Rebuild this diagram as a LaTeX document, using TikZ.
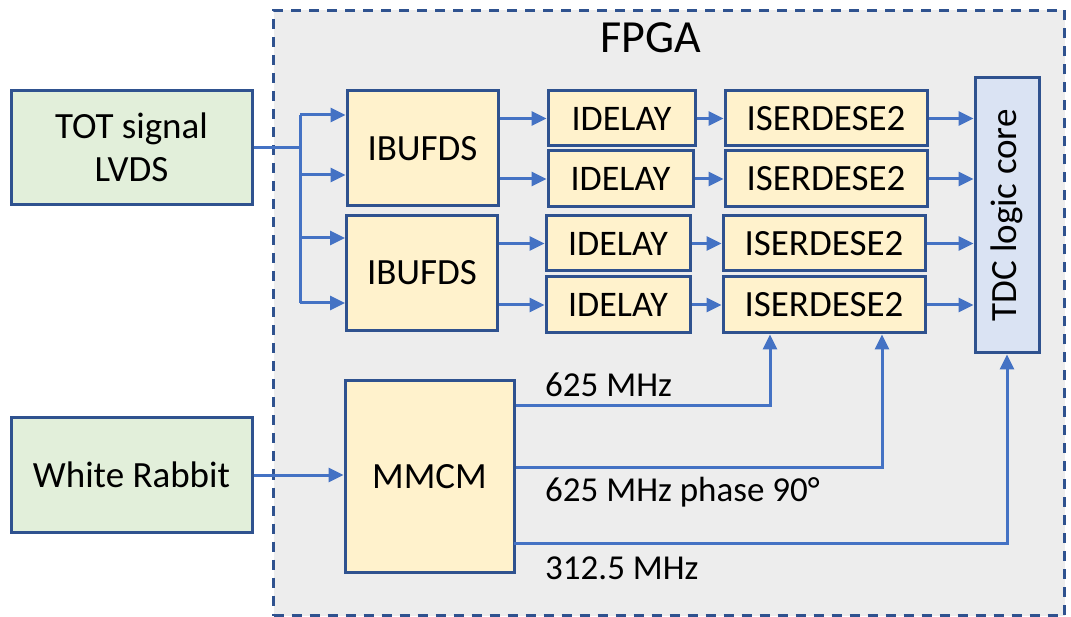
\documentclass[tikz,border=0pt]{standalone}
\usepackage{fontspec}
\setmainfont{Carlito}
\usetikzlibrary{arrows.meta,calc}
\definecolor{bord}{HTML}{2F528F}
\definecolor{arrc}{HTML}{4472C4}
\definecolor{yel}{HTML}{FFF2CC}
\definecolor{grn}{HTML}{E2EFDA}
\definecolor{blu}{HTML}{DAE3F3}
\definecolor{bg}{HTML}{EDEDED}
\tikzset{
  blk/.style={draw=bord, line width=3pt, inner sep=0pt, font=\fontsize{37}{43}\selectfont},
  ybox/.style={blk, fill=yel},
  ibox/.style={ybox, font=\fontsize{36}{43}\selectfont},
  gbox/.style={blk, fill=grn, align=center},
  arr/.style={draw=arrc, line width=3pt, -{Triangle[length=15pt,width=14pt]}},
  ln/.style={draw=arrc, line width=3pt},
  lbl/.style={font=\fontsize{35}{40}\selectfont, inner sep=0pt, anchor=west}
}
\begin{document}
\begin{tikzpicture}[x=1pt,y=-1pt]
\useasboundingbox (0,0) rectangle (1071,617);
% FPGA area
\node[fill=bg, draw=bord, line width=3pt, dash pattern=on 10pt off 8pt, minimum width=791pt, minimum height=605pt, inner sep=0pt, anchor=north west] (fpga) at (272,9) {};
\node[font=\fontsize{46}{50}\selectfont, inner sep=0pt] (fpgalbl) at (651,38) {FPGA};
% inputs
\node[gbox, minimum width=241pt, minimum height=114pt] (tot) at (131.5,147.5) {TOT signal\\LVDS};
\node[gbox, minimum width=241pt, minimum height=114pt] (wr) at (131.5,475) {White Rabbit};
% IBUFDS
\node[ybox, minimum width=151pt, minimum height=115pt] (ib1) at (422.5,148.5) {IBUFDS};
\node[ybox, minimum width=151pt, minimum height=115pt] (ib2) at (422,273) {IBUFDS};
% IDELAY
\node[ibox, minimum width=147pt, minimum height=55pt] (id1) at (621.5,118.5) {IDELAY};
\node[ibox, minimum width=145pt, minimum height=56pt] (id2) at (620.5,179) {IDELAY};
\node[ibox, minimum width=144pt, minimum height=55pt] (id3) at (618,243.5) {IDELAY};
\node[ibox, minimum width=144pt, minimum height=56pt] (id4) at (618,305) {IDELAY};
% ISERDESE2
\node[ybox, minimum width=202pt, minimum height=55pt] (is1) at (826,118.5) {ISERDESE2};
\node[ybox, minimum width=202pt, minimum height=56pt] (is2) at (826,179) {ISERDESE2};
\node[ybox, minimum width=202pt, minimum height=55pt] (is3) at (824,243.5) {ISERDESE2};
\node[ybox, minimum width=202pt, minimum height=56pt] (is4) at (824,305) {ISERDESE2};
% TDC
\node[blk, fill=blu, minimum width=64pt, minimum height=275pt] (tdc) at (1007,215.5) {};
\node[rotate=90, font=\fontsize{37}{43}\selectfont, inner sep=0pt] (tdclbl) at (tdc.center) {TDC logic core};
% MMCM
\node[ybox, minimum width=169pt, minimum height=191pt] (mm) at (429.5,476.5) {MMCM};
% split
\coordinate (sp) at (300,148);
\coordinate (s1) at (300,115);
\coordinate (s2) at (300,175);
\coordinate (s3) at (300,238);
\coordinate (s4) at (300,303);
\draw[ln] (tot.east |- sp) -- (sp);
\draw[ln] (s1) -- (s4);
\draw[arr] (s1) -- (s1 -| ib1.west);
\draw[arr] (s2) -- (s2 -| ib1.west);
\draw[arr] (s3) -- (s3 -| ib2.west);
\draw[arr] (s4) -- (s4 -| ib2.west);
% IBUFDS -> IDELAY
\draw[arr] (ib1.east |- id1) -- (id1.west);
\draw[arr] (ib1.east |- id2) -- (id2.west);
\draw[arr] (ib2.east |- id3) -- (id3.west);
\draw[arr] (ib2.east |- id4) -- (id4.west);
% IDELAY -> ISERDES
\draw[arr] (id1.east) -- (is1.west |- id1);
\draw[arr] (id2.east) -- (is2.west |- id2);
\draw[arr] (id3.east) -- (is3.west |- id3);
\draw[arr] (id4.east) -- (is4.west |- id4);
% ISERDES -> TDC
\draw[arr] (is1.east) -- (is1 -| tdc.west);
\draw[arr] (is2.east) -- (is2 -| tdc.west);
\draw[arr] (is3.east) -- (is3 -| tdc.west);
\draw[arr] (is4.east) -- (is4 -| tdc.west);
% WR -> MMCM
\draw[arr] (wr.east) -- (mm.west |- wr);
% clocks
\coordinate (c1) at (770,406);
\coordinate (c2) at (882,467);
\coordinate (c3) at (1007,543);
\draw[arr] (mm.east |- c1) -| (c1 |- is4.south);
\draw[arr] (mm.east |- c2) -| (c2 |- is4.south);
\draw[arr] ([xshift=-2pt]mm.east |- c3) -| (tdc.south);
\node[lbl] (l1) at (545,385) {625 MHz};
\node[lbl] (l2) at (545,492) {625 MHz phase 90°};
\node[lbl] (l3) at (545,568) {312.5 MHz};
\end{tikzpicture}
\end{document}
